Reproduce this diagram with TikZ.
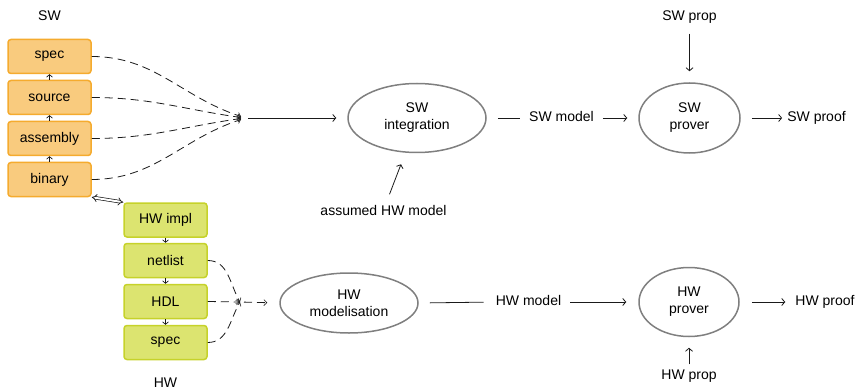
\documentclass[tikz,border=0pt]{standalone}
\usepackage{fontspec}
\setmainfont{Liberation Sans}
\usetikzlibrary{arrows.meta,shapes.geometric,calc}
\definecolor{swfill}{HTML}{F9CB7E}
\definecolor{swline}{HTML}{F5AB2E}
\definecolor{hwfill}{HTML}{DCE470}
\definecolor{hwline}{HTML}{C6D22A}
\definecolor{ellline}{HTML}{7F7F7F}
\definecolor{connc}{HTML}{1A1A1A}
\begin{document}
\begin{tikzpicture}[x=1pt,y=-1pt,
  font=\fontsize{14}{17}\selectfont,
  swbox/.style={draw=swline, fill=swfill, line width=1.5pt, rounded corners=3pt,
    minimum width=83pt, minimum height=34pt, inner sep=0pt},
  hwbox/.style={draw=hwline, fill=hwfill, line width=1.5pt, rounded corners=3pt,
    minimum width=83pt, minimum height=34pt, inner sep=0pt},
  proc/.style={ellipse, draw=ellline, line width=1.5pt, inner sep=0pt, align=center},
  lbl/.style={inner sep=0pt, text height=10pt, text depth=3pt},
  conn/.style={draw=connc, line width=0.8pt, -{Straight Barb[length=3pt,width=7pt]}},
  small/.style={draw=connc, line width=0.7pt, -{Straight Barb[length=2.5pt,width=6pt]}},
  dconn/.style={draw=connc, line width=0.8pt, dash pattern=on 8pt off 5pt,
    -{Straight Barb[length=3pt,width=6pt,line width=0.6pt]}},
  plain/.style={draw=connc, line width=0.8pt}]
\useasboundingbox (0,0) rectangle (858,390);

% SW stack
\node[lbl] (swlbl) at (49.5,17.5) {SW};
\node[swbox] (sspec) at (49.5,56.5) {spec};
\node[swbox] (ssrc)  at (49.5,97.5) {source};
\node[swbox] (sasm)  at (49.5,138.5) {assembly};
\node[swbox] (sbin)  at (49.5,179.5) {binary};
\draw[small] (sbin.north) -- (sasm.south);
\draw[small] (sasm.north) -- (ssrc.south);
\draw[small] (ssrc.north) -- (sspec.south);

% HW stack
\node[hwbox] (himpl) at (165.5,220) {HW impl};
\node[hwbox] (hnet)  at (165.5,260.5) {netlist};
\node[hwbox] (hhdl)  at (165.5,301.5) {HDL};
\node[hwbox] (hspec) at (165.5,342.5) {spec};
\node[lbl] (hwlbl) at (165.5,384) {HW};
\draw[small] (himpl.south) -- (hnet.north);
\draw[small] (hnet.south) -- (hhdl.north);
\draw[small] (hhdl.south) -- (hspec.north);

% link between stacks
\draw[connc, line width=0.7pt, double distance=2pt, {Implies[length=4pt]}-{Implies[length=4pt]}]
  (sbin.south east) -- (himpl.north west);

% SW row
\coordinate (j1) at (241,118);
\node[proc, minimum width=138pt, minimum height=69pt] (swint) at (417,118) {SW\\integration};
\node[lbl] (swmodel) at (561.5,118) {SW model};
\node[proc, minimum width=101pt, minimum height=70pt] (swprov) at (689.5,118) {SW\\prover};
\node[lbl] (swproof) at (816.5,118) {SW proof};
\node[lbl] (swprop) at (689.5,17) {SW prop};
\node[lbl] (asm) at (383.5,212) {assumed HW model};

\draw[dconn] (sspec.east) to[out=0,in=162] ($(j1)+(0,-1.5)$);
\draw[dconn] (ssrc.east) to[out=0,in=172] ($(j1)+(0,-0.5)$);
\draw[dconn] (sasm.east) to[out=0,in=188] ($(j1)+(0,0.5)$);
\draw[dconn] (sbin.east) to[out=0,in=198] ($(j1)+(0,1.5)$);
\draw[conn, shorten <=7pt, shorten >=11pt] (j1) -- (swint.west);
\draw[plain, shorten <=11pt, shorten >=9pt] (swint.east) -- (swmodel.west);
\draw[conn, shorten <=9pt, shorten >=11pt] (swmodel.east) -- (swprov.west);
\draw[conn, shorten <=11pt, shorten >=5pt] (swprov.east) -- (swproof.west);
\draw[conn, shorten <=10pt, shorten >=11pt] (swprop.south) -- (swprov.north);
\draw[conn] ($(asm.north)+(6,-11)$) -- ($(swint.south)+(-16,11)$);

% HW row
\coordinate (j2) at (240,302);
\node[proc, minimum width=138pt, minimum height=60pt] (hwmod) at (349,303) {HW\\modelisation};
\node[lbl] (hwmodel) at (528.5,302) {HW model};
\node[proc, minimum width=100pt, minimum height=69pt] (hwprov) at (689,302) {HW\\prover};
\node[lbl] (hwproof) at (825,302) {HW proof};
\node[lbl] (hwprop) at (689,376) {HW prop};

\draw[dconn] (hnet.east) to[out=0,in=120] (j2);
\draw[dconn] (hhdl.east) -- (j2);
\draw[dconn] (hspec.east) to[out=0,in=240] (j2);
\draw[dconn, shorten <=4pt, shorten >=12pt] (j2) -- (hwmod.west);
\draw[plain, shorten <=11pt, shorten >=12pt] (hwmod.east) -- (hwmodel.west);
\draw[conn, shorten <=9pt, shorten >=12pt] (hwmodel.east) -- (hwprov.west);
\draw[conn, shorten <=12pt, shorten >=10pt] (hwprov.east) -- (hwproof.west);
\draw[conn, shorten <=5pt, shorten >=10.5pt] (hwprop.north) -- (hwprov.south);
\end{tikzpicture}
\end{document}
